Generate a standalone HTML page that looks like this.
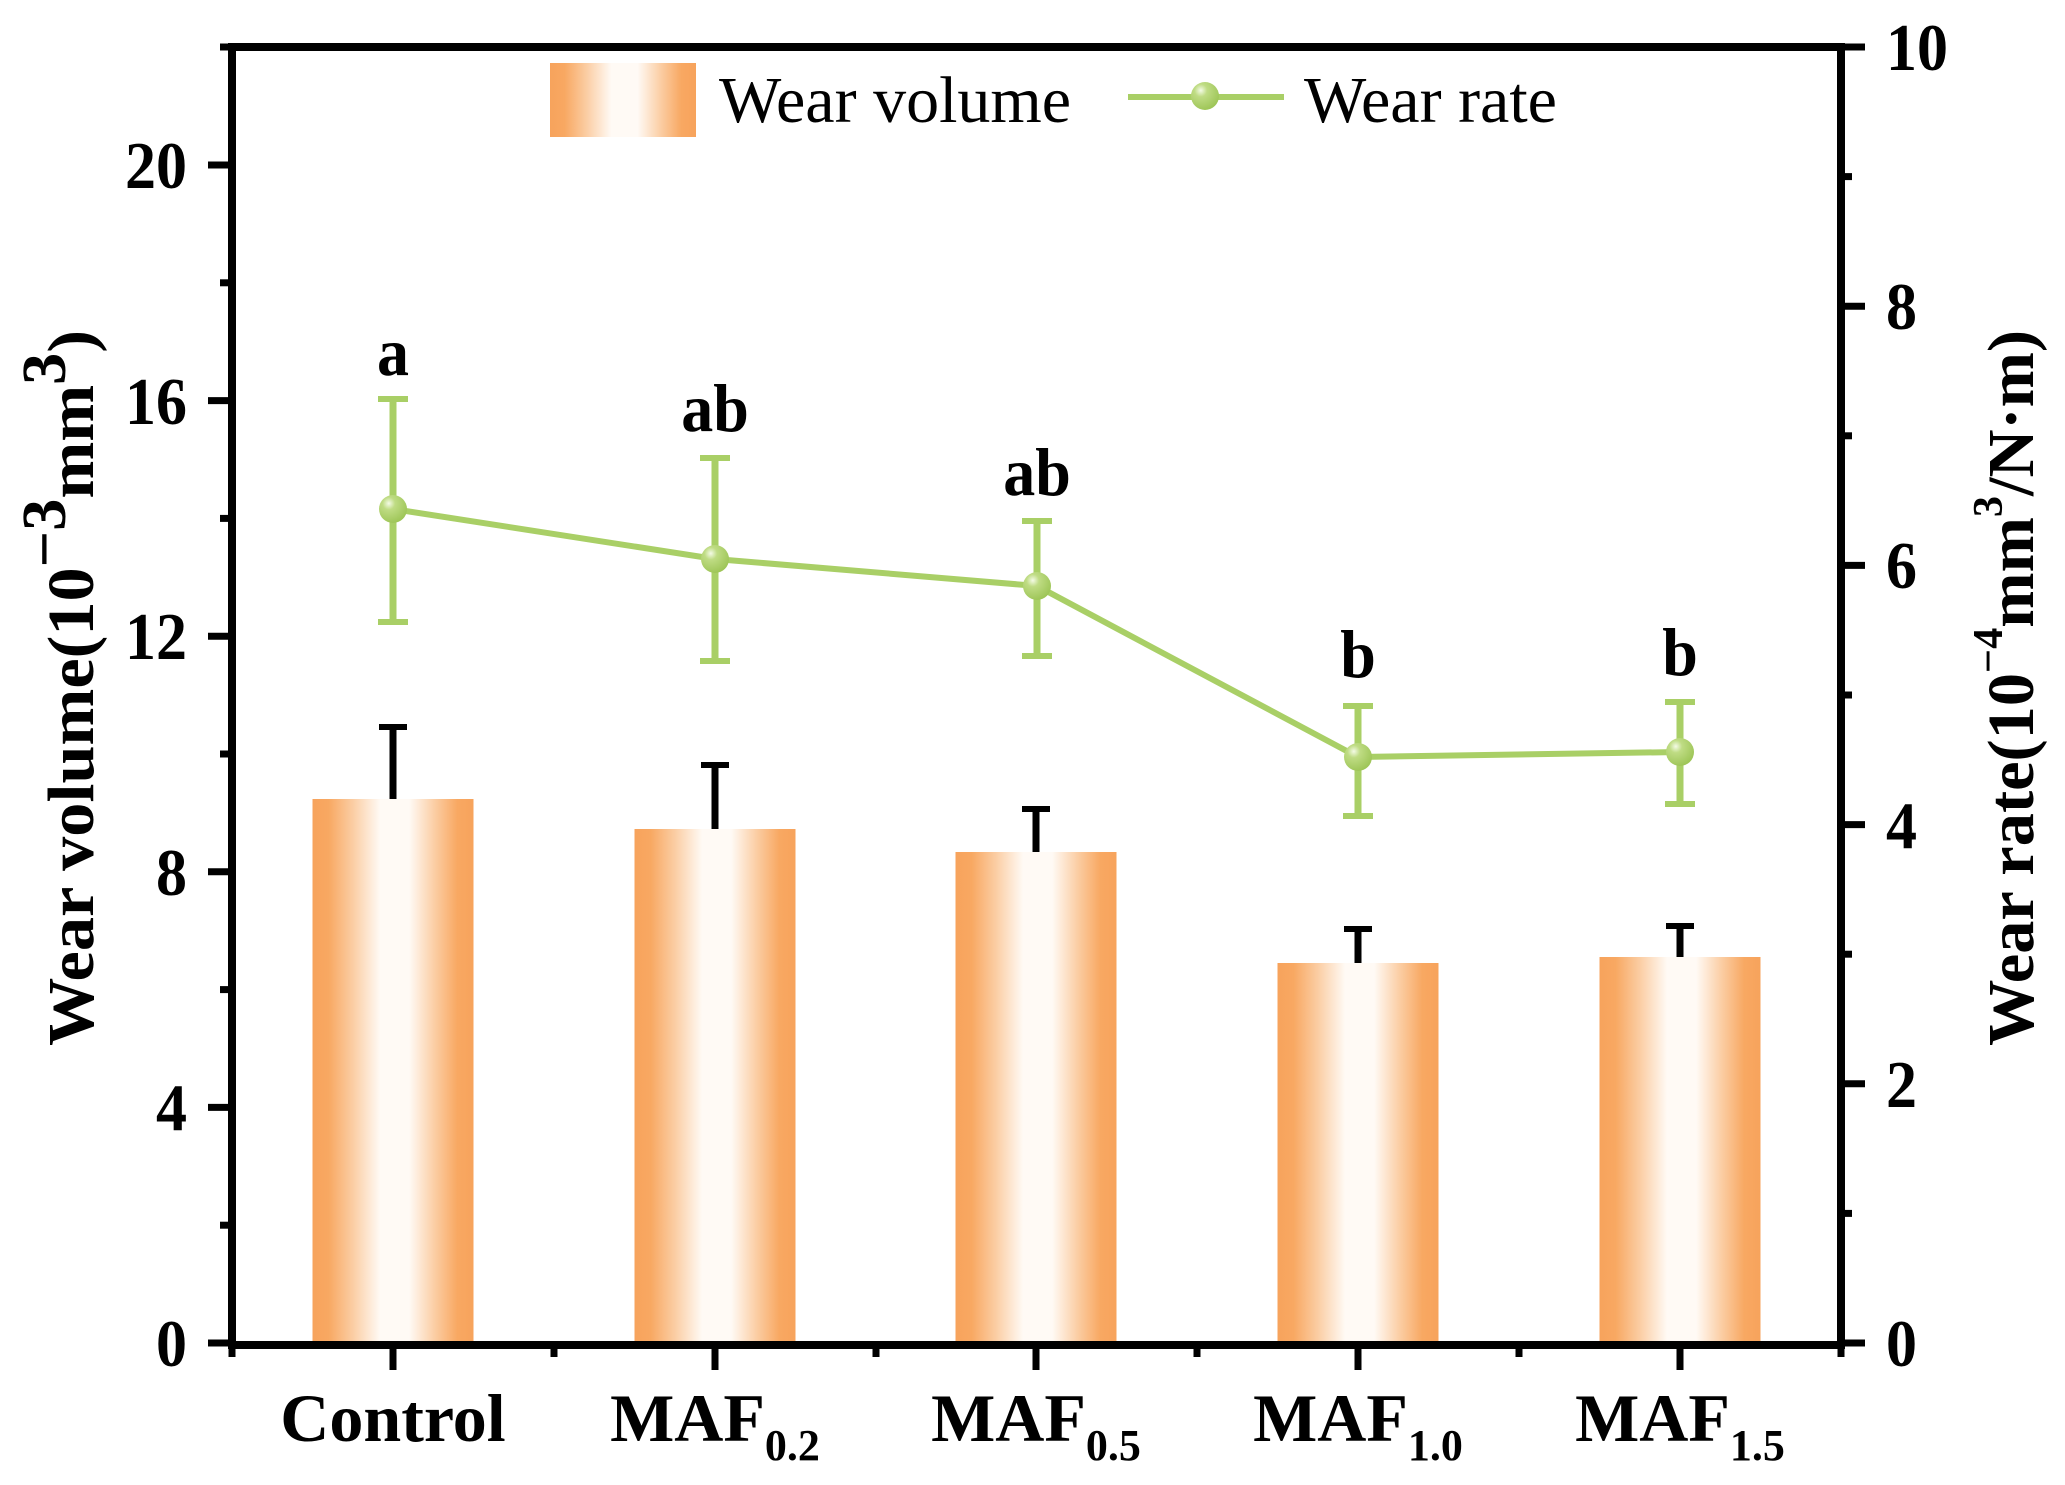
<!DOCTYPE html>
<html>
<head>
<meta charset="utf-8">
<style>
  html, body { margin: 0; padding: 0; background: #ffffff; }
  svg { display: block; }
  text { font-family: "Liberation Serif", "Times New Roman", serif; fill: #000; }
  .b { font-weight: bold; }
</style>
</head>
<body>
<svg width="2065" height="1485" viewBox="0 0 2065 1485" xmlns="http://www.w3.org/2000/svg">
  <defs>
    <linearGradient id="barg" x1="0" y1="0" x2="1" y2="0">
      <stop offset="0" stop-color="#f7a35c"/>
      <stop offset="0.10" stop-color="#f8a862"/>
      <stop offset="0.25" stop-color="#fbcda3"/>
      <stop offset="0.42" stop-color="#fffaf5"/>
      <stop offset="0.60" stop-color="#fffaf5"/>
      <stop offset="0.76" stop-color="#fbcda3"/>
      <stop offset="0.90" stop-color="#f8a862"/>
      <stop offset="1" stop-color="#f7a35c"/>
    </linearGradient>
    <radialGradient id="mk" cx="0.35" cy="0.3" r="0.75">
      <stop offset="0" stop-color="#f4fbe6"/>
      <stop offset="0.3" stop-color="#bfdc84"/>
      <stop offset="1" stop-color="#9cc455"/>
    </radialGradient>
  </defs>

  <rect x="0" y="0" width="2065" height="1485" fill="#ffffff"/>

  <!-- Bars -->
  <rect x="312.5" y="799" width="161" height="544" fill="url(#barg)"/>
  <rect x="634.5" y="829" width="161" height="514" fill="url(#barg)"/>
  <rect x="955.5" y="852" width="161" height="491" fill="url(#barg)"/>
  <rect x="1277.5" y="963" width="161" height="380" fill="url(#barg)"/>
  <rect x="1599.5" y="957" width="161" height="386" fill="url(#barg)"/>

  <!-- Bar error bars (upper only) -->
  <g stroke="#000" stroke-width="7" fill="none">
    <line x1="393" y1="799" x2="393" y2="725"/>
    <line x1="379" y1="727" x2="407" y2="727" stroke-width="6"/>
    <line x1="715" y1="829" x2="715" y2="763"/>
    <line x1="701" y1="765" x2="729" y2="765" stroke-width="6"/>
    <line x1="1036" y1="852" x2="1036" y2="807"/>
    <line x1="1022" y1="809" x2="1050" y2="809" stroke-width="6"/>
    <line x1="1358" y1="963" x2="1358" y2="927"/>
    <line x1="1344" y1="929" x2="1372" y2="929" stroke-width="6"/>
    <line x1="1680" y1="957" x2="1680" y2="924"/>
    <line x1="1666" y1="926" x2="1694" y2="926" stroke-width="6"/>
  </g>

  <!-- Wear rate line -->
  <polyline points="393,509 715,559 1037,586 1358,757 1680,752" fill="none" stroke="#a9cf66" stroke-width="6"/>

  <!-- Green error bars -->
  <g stroke="#a9cf66" stroke-width="7" fill="none">
    <line x1="393" y1="399" x2="393" y2="622"/>
    <line x1="378" y1="399" x2="408" y2="399" stroke-width="6"/>
    <line x1="378" y1="622" x2="408" y2="622" stroke-width="6"/>
    <line x1="715" y1="458" x2="715" y2="661"/>
    <line x1="700" y1="458" x2="730" y2="458" stroke-width="6"/>
    <line x1="700" y1="661" x2="730" y2="661" stroke-width="6"/>
    <line x1="1037" y1="521" x2="1037" y2="656"/>
    <line x1="1022" y1="521" x2="1052" y2="521" stroke-width="6"/>
    <line x1="1022" y1="656" x2="1052" y2="656" stroke-width="6"/>
    <line x1="1358" y1="706" x2="1358" y2="816"/>
    <line x1="1343" y1="706" x2="1373" y2="706" stroke-width="6"/>
    <line x1="1343" y1="816" x2="1373" y2="816" stroke-width="6"/>
    <line x1="1680" y1="702" x2="1680" y2="804"/>
    <line x1="1665" y1="702" x2="1695" y2="702" stroke-width="6"/>
    <line x1="1665" y1="804" x2="1695" y2="804" stroke-width="6"/>
  </g>

  <!-- Markers -->
  <g fill="url(#mk)">
    <circle cx="393" cy="509" r="14"/>
    <circle cx="715" cy="559" r="14"/>
    <circle cx="1037" cy="586" r="14"/>
    <circle cx="1358" cy="757" r="14"/>
    <circle cx="1680" cy="752" r="14"/>
  </g>

  <!-- Significance letters -->
  <g font-size="64" text-anchor="middle">
    <text class="b" transform="translate(393,375) scale(1,1.06)">a</text>
    <text class="b" transform="translate(715,431) scale(1,1.06)">ab</text>
    <text class="b" transform="translate(1037,495) scale(1,1.06)">ab</text>
    <text class="b" transform="translate(1358,677) scale(1,1.06)">b</text>
    <text class="b" transform="translate(1680,675) scale(1,1.06)">b</text>
  </g>

  <!-- Frame -->
  <g stroke="#000" stroke-width="8" fill="none" stroke-linecap="square">
    <line x1="232" y1="47" x2="1841" y2="47"/>
    <line x1="232" y1="47" x2="232" y2="1345"/>
    <line x1="1841" y1="47" x2="1841" y2="1345"/>
    <line x1="232" y1="1345" x2="1841" y2="1345"/>
  </g>

  <!-- Left ticks -->
  <g stroke="#000" stroke-width="7">
    <line x1="208" y1="1343" x2="232" y2="1343"/>
    <line x1="208" y1="1107.4" x2="232" y2="1107.4"/>
    <line x1="208" y1="871.8" x2="232" y2="871.8"/>
    <line x1="208" y1="636.2" x2="232" y2="636.2"/>
    <line x1="208" y1="400.6" x2="232" y2="400.6"/>
    <line x1="208" y1="165" x2="232" y2="165"/>
    <line x1="220" y1="1225.2" x2="232" y2="1225.2"/>
    <line x1="220" y1="989.6" x2="232" y2="989.6"/>
    <line x1="220" y1="754" x2="232" y2="754"/>
    <line x1="220" y1="518.4" x2="232" y2="518.4"/>
    <line x1="220" y1="282.8" x2="232" y2="282.8"/>
    <line x1="220" y1="47" x2="232" y2="47"/>
  </g>

  <!-- Right ticks -->
  <g stroke="#000" stroke-width="7">
    <line x1="1841" y1="1343" x2="1865" y2="1343"/>
    <line x1="1841" y1="1083.8" x2="1865" y2="1083.8"/>
    <line x1="1841" y1="824.6" x2="1865" y2="824.6"/>
    <line x1="1841" y1="565.4" x2="1865" y2="565.4"/>
    <line x1="1841" y1="306.2" x2="1865" y2="306.2"/>
    <line x1="1841" y1="47" x2="1865" y2="47"/>
    <line x1="1841" y1="1213.4" x2="1852" y2="1213.4"/>
    <line x1="1841" y1="954.2" x2="1852" y2="954.2"/>
    <line x1="1841" y1="695" x2="1852" y2="695"/>
    <line x1="1841" y1="435.8" x2="1852" y2="435.8"/>
    <line x1="1841" y1="176.6" x2="1852" y2="176.6"/>
  </g>

  <!-- Bottom ticks -->
  <g stroke="#000" stroke-width="7">
    <line x1="393" y1="1345" x2="393" y2="1370"/>
    <line x1="715" y1="1345" x2="715" y2="1370"/>
    <line x1="1036" y1="1345" x2="1036" y2="1370"/>
    <line x1="1358" y1="1345" x2="1358" y2="1370"/>
    <line x1="1680" y1="1345" x2="1680" y2="1370"/>
    <line x1="232" y1="1345" x2="232" y2="1357"/>
    <line x1="554" y1="1345" x2="554" y2="1357"/>
    <line x1="876" y1="1345" x2="876" y2="1357"/>
    <line x1="1197" y1="1345" x2="1197" y2="1357"/>
    <line x1="1519" y1="1345" x2="1519" y2="1357"/>
    <line x1="1841" y1="1345" x2="1841" y2="1357"/>
  </g>

  <!-- Left tick labels -->
  <g font-size="62" text-anchor="end">
    <text class="b" transform="translate(187,1366) scale(1,1.08)">0</text>
    <text class="b" transform="translate(187,1130) scale(1,1.08)">4</text>
    <text class="b" transform="translate(187,895) scale(1,1.08)">8</text>
    <text class="b" transform="translate(187,659) scale(1,1.08)">12</text>
    <text class="b" transform="translate(187,424) scale(1,1.08)">16</text>
    <text class="b" transform="translate(187,188) scale(1,1.08)">20</text>
  </g>

  <!-- Right tick labels -->
  <g font-size="62" text-anchor="start">
    <text class="b" transform="translate(1886,1366) scale(1,1.08)">0</text>
    <text class="b" transform="translate(1886,1107) scale(1,1.08)">2</text>
    <text class="b" transform="translate(1886,848) scale(1,1.08)">4</text>
    <text class="b" transform="translate(1886,588) scale(1,1.08)">6</text>
    <text class="b" transform="translate(1886,329) scale(1,1.08)">8</text>
    <text class="b" transform="translate(1886,70) scale(1,1.08)">10</text>
  </g>

  <!-- Category labels -->
  <g font-size="68" text-anchor="middle">
    <text class="b" x="393" y="1441">Control</text>
    <text class="b" x="715" y="1441">MAF<tspan font-size="44" dy="19">0.2</tspan></text>
    <text class="b" x="1036" y="1441">MAF<tspan font-size="44" dy="19">0.5</tspan></text>
    <text class="b" x="1358" y="1441">MAF<tspan font-size="44" dy="19">1.0</tspan></text>
    <text class="b" x="1680" y="1441">MAF<tspan font-size="44" dy="19">1.5</tspan></text>
  </g>

  <!-- Axis titles -->
  <text class="b" font-size="66" text-anchor="middle" transform="translate(93,688) rotate(-90)" textLength="716" lengthAdjust="spacingAndGlyphs">Wear volume(10<tspan font-size="62" dy="-28">−3</tspan><tspan dy="28">mm</tspan><tspan font-size="62" dy="-28">3</tspan><tspan dy="28">)</tspan></text>

  <text class="b" font-size="66" text-anchor="middle" transform="translate(2033,688) rotate(-90)" textLength="716" lengthAdjust="spacingAndGlyphs">Wear rate(10<tspan font-size="42" dy="-31">−4</tspan><tspan dy="31">mm</tspan><tspan font-size="42" dy="-31">3</tspan><tspan dy="31">/N·m)</tspan></text>

  <!-- Legend -->
  <rect x="550" y="63" width="146" height="74" fill="url(#barg)"/>
  <text x="719" y="122" font-size="66">Wear volume</text>
  <line x1="1128" y1="97" x2="1284" y2="97" stroke="#a9cf66" stroke-width="6"/>
  <circle cx="1205" cy="96" r="14" fill="url(#mk)"/>
  <text x="1304" y="122" font-size="66">Wear rate</text>
</svg>
</body>
</html>
